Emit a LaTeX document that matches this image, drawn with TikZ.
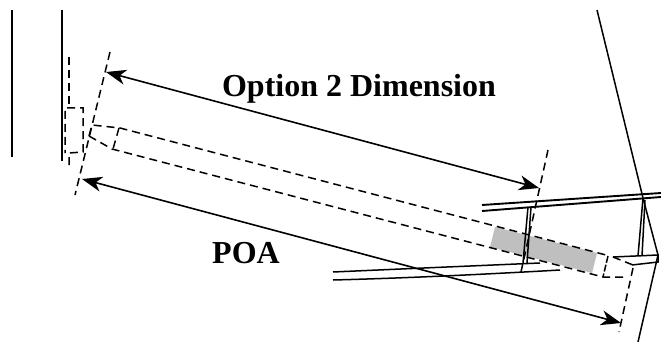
\documentclass[tikz,border=0pt]{standalone}
\usepackage{fontspec}
\setmainfont{Liberation Serif}
\usetikzlibrary{arrows.meta}
\tikzset{
  solidln/.style={line width=1.9pt,black},
  thinln/.style={line width=1.5pt,black},
  dashln/.style={line width=1.5pt,black,dash pattern=on 8pt off 5pt},
  dimarrow/.style={line width=1.6pt,black,{Stealth[length=20pt,width=15pt,inset=6pt]}-{Stealth[length=20pt,width=15pt,inset=6pt]}},
  lbl/.style={font=\fontsize{32}{34}\selectfont\bfseries,inner sep=0pt,anchor=base}
}
\begin{document}
\begin{tikzpicture}[x=1pt,y=-1pt]
\useasboundingbox (0,0) rectangle (661,342);
% gray band
\fill[black!25] (495,227) -- (490,247) -- (592,273) -- (597,253) -- cycle;
% wall lines
\draw[solidln] (12,10) -- (12,157);
\draw[solidln] (62,10) -- (62,161);
% left dashed bracket
\draw[dashln] (69,57) -- (69,108);
\draw[dashln] (69,165) -- (69,153) -- (83,152) -- (83,108) -- (65,108) -- (65,153);
% datum lines
\draw[dashln] (110,52) -- (75,195);
\draw[dashln] (548,150) -- (521,272);
\draw[dashln] (633,268) -- (619,332);
% implant outline
\draw[dashln] (89,136) -- (92,125) -- (120,128) -- (606,255);
\draw[dashln] (89,136) -- (112,149) -- (603,277) -- (628,277);
\draw[dashln] (613,257) -- (633,265);
\draw[dashln] (119,128) -- (113,149);
\draw[line width=1.5pt,dash pattern=on 7pt off 2pt] (608,256) -- (603,277);
% beams
\draw[solidln] (482,205) -- (661,193);
\draw[solidln] (482,211) -- (661,197);
\draw[thinln] (528,207) -- (523,263);
\draw[thinln] (531,207) -- (527,263);
\draw[thinln] (643,198) -- (638,256);
\draw[thinln] (645,200) -- (642,256);
\draw[thinln] (333,272) .. controls (400,269) and (470,266) .. (540,263);
\draw[thinln] (333,280) .. controls (410,278) and (490,274) .. (560,270);
\draw[thinln] (613,257) -- (658,255) -- (658,262) -- (632,265);
% cortex line
\draw[thinln] (597,10) -- (643,198) -- (658,255) -- (638,342);
% dimensions
\coordinate (a1) at (106,72);
\coordinate (a2) at (539,188);
\coordinate (b1) at (82,179);
\coordinate (b2) at (621,323);
\draw[dimarrow] (a1) -- (a2);
\draw[dimarrow] (b1) -- (b2);
% labels
\node[lbl] (optlabel) at (359,97) {Option 2 Dimension};
\node[lbl] (poalabel) at (246,263) {POA};
\end{tikzpicture}
\end{document}
